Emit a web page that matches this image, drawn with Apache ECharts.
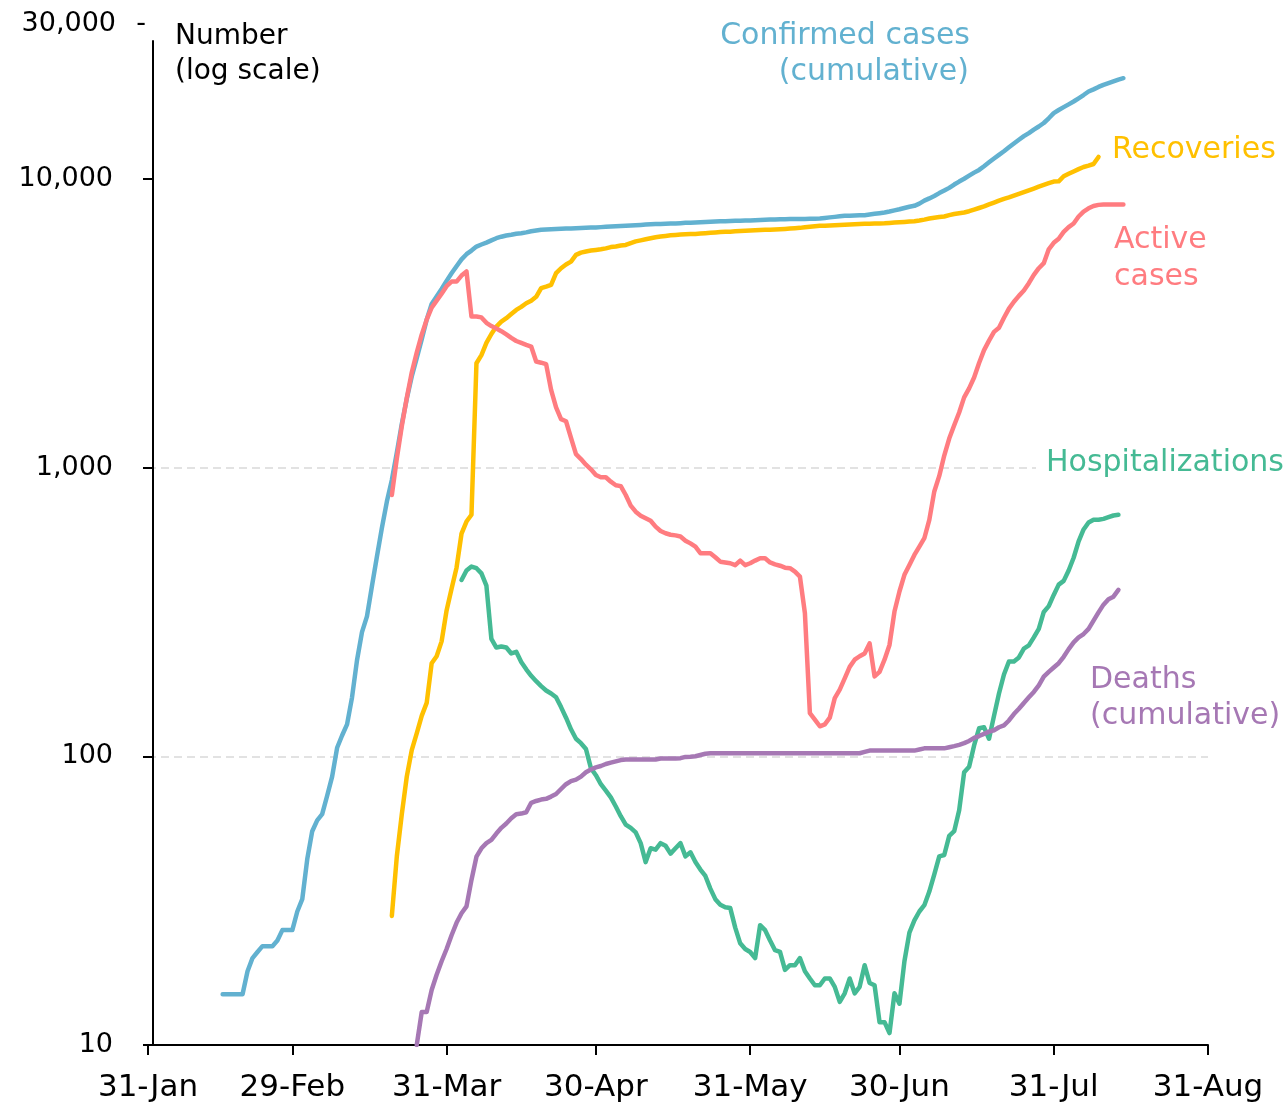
<!DOCTYPE html>
<html><head><meta charset="utf-8">
<script src="https://cdn.jsdelivr.net/npm/echarts@6/dist/echarts.min.js"></script>
<style>html,body{margin:0;padding:0;background:#fff}#c{width:1285px;height:1103px}</style>
</head><body><div id="c"></div>
<script>
// ---- axis definitions ----
const axisStart = '2020-01-31';
const axisEnd = '2020-08-31';
const monthTicks = ['31-Jan','29-Feb','31-Mar','30-Apr','31-May','30-Jun','31-Jul','31-Aug'];
const yTicks = [10, 100, 1000, 10000];
const yMin = 10, yMax = 30000;

// ---- series (daily values from their start date) ----
const confirmedStart = '2020-02-15';
const confirmed = [15,15,15,15,15,18,20,21,22,22,22,23,25,25,25,29,32,44,55,60,63,73,85,107,118,129,160,215,269,305,388,491,618,762,906,1125,1416,1730,2066,2392,2775,3252,3686,3910,4155,4430,4707,4980,5260,5480,5640,5824,5920,6010,6120,6225,6300,6360,6400,6450,6480,6520,6580,6620,6655,6670,6690,6700,6710,6720,6730,6745,6755,6765,6775,6785,6800,6815,6830,6845,6860,6875,6890,6905,6920,6940,6955,6965,6975,6985,6995,7005,7020,7035,7045,7060,7070,7085,7095,7110,7120,7130,7140,7150,7160,7165,7170,7185,7195,7210,7220,7230,7240,7245,7250,7255,7260,7262,7265,7270,7290,7320,7350,7380,7410,7440,7450,7460,7470,7480,7520,7560,7600,7640,7700,7770,7840,7920,8000,8060,8200,8400,8550,8720,8920,9100,9300,9550,9780,10000,10250,10500,10730,11050,11400,11750,12100,12450,12850,13250,13650,14050,14400,14800,15170,15600,16200,16880,17300,17700,18100,18520,19000,19500,20050,20400,20800,21150,21450,21750,22050,22300];

const recoveriesStart = '2020-03-20';
const recoveries = [28,45,63,85,105,120,138,153,210,222,250,320,380,450,590,650,686,2296,2450,2700,2900,3076,3200,3290,3400,3514,3600,3705,3780,3900,4180,4230,4290,4710,4900,5050,5165,5450,5550,5600,5640,5670,5700,5740,5800,5830,5870,5900,5990,6070,6120,6170,6220,6270,6310,6340,6370,6390,6410,6425,6435,6440,6460,6480,6500,6520,6540,6550,6560,6575,6590,6600,6615,6630,6645,6655,6665,6675,6685,6700,6720,6740,6760,6790,6820,6850,6870,6880,6890,6905,6920,6935,6950,6960,6975,6985,6990,6995,7000,7010,7030,7050,7070,7090,7110,7130,7170,7220,7280,7330,7370,7400,7480,7550,7600,7640,7720,7820,7920,8020,8150,8270,8400,8520,8620,8740,8860,8990,9120,9250,9390,9520,9650,9780,9800,10200,10400,10600,10800,10980,11100,11250,11900];

const activeStart = '2020-03-20';
const active = [803,1075,1390,1742,2133,2500,2884,3252,3578,3785,4000,4245,4404,4404,4620,4775,3336,3336,3310,3170,3090,3030,2965,2890,2810,2742,2700,2660,2624,2328,2307,2280,1858,1615,1470,1446,1267,1112,1070,1023,986,942,925,925,893,868,862,803,738,703,681,667,654,624,603,592,585,582,577,558,546,532,505,505,505,489,472,469,466,459,476,459,466,476,485,485,469,462,457,450,448,436,419,313,141,134,127,129,136,159,170,186,204,216,222,227,246,189,196,216,243,317,372,425,460,498,532,569,659,826,935,1100,1260,1400,1550,1750,1880,2050,2300,2550,2750,2950,3050,3300,3550,3750,3930,4100,4350,4650,4900,5100,5700,6000,6200,6550,6800,7000,7400,7700,7900,8050,8120,8150,8150,8150,8150,8150];

const hospitalStart = '2020-04-03';
const hospital = [408,440,454,448,430,390,255,238,240,238,227,230,212,200,190,182,175,169,165,160,148,136,124,115,111,106,91,86,80,76,72,67,62,58,56.5,54.5,50,43,48,47.5,50,49,46,48,50,45,46.5,43,40.5,38.5,34.8,32,30.6,30,29.8,25.5,22.5,21.5,21,20,26,25,23,21.3,21,18.2,18.9,18.9,20,18,17,16.1,16.1,17,17,15.9,14.1,15.1,17,15.1,15.9,18.9,16.4,16.1,12,12,11,15.1,13.9,19.5,24.5,27,29,30.5,34,39,45,45.5,53,55,65,88,92,109,125,126,115,138,165,192,213,213,220,236,242,258,276,316,331,362,393,405,440,487,555,610,645,659,659,664,673,682,686];

const deathsStart = '2020-03-25';
const deaths = [10,13,13,15.5,17.5,19.5,21.5,24,26.5,28.6,30.2,37.3,44.9,48,50,51.3,54,56.5,58.5,61,63,63.3,64,69,70,70.8,71.2,72.5,74,77,80,82,83,85,88,90,91.5,92.5,94,95,96,97,97.4,97.4,97.4,97.4,97.4,97.4,97.4,98.2,98.2,98.2,98.2,98.5,99.5,99.7,100,101,102,102.4,102.4,102.4,102.4,102.4,102.4,102.4,102.4,102.4,102.4,102.4,102.4,102.4,102.4,102.4,102.4,102.4,102.4,102.4,102.4,102.4,102.4,102.4,102.4,102.4,102.4,102.4,102.4,102.4,102.4,102.4,103.5,104.6,104.6,104.6,104.6,104.6,104.6,104.6,104.6,104.6,104.6,105.5,106.5,106.5,106.5,106.5,106.5,107.5,108.4,109.5,111,113,115.7,117.5,119.5,121.7,123,126,128,133,140,146,153,160,167,176,188.7,196,203,210,221,235,248,258,265,276,295,315,335,350,357,377];

// ---- build category axis and series ----
const MON = ['Jan','Feb','Mar','Apr','May','Jun','Jul','Aug','Sep','Oct','Nov','Dec'];
const DAY = 86400000;
const t0 = Date.parse(axisStart + 'T00:00:00Z');
const t1 = Date.parse(axisEnd + 'T00:00:00Z');
const categories = [];
for (let t = t0; t <= t1; t += DAY) {
  const d = new Date(t);
  categories.push(d.getUTCDate() + '-' + MON[d.getUTCMonth()]);
}
function toSeries(start, arr) {
  const off = Math.round((Date.parse(start + 'T00:00:00Z') - t0) / DAY);
  return categories.map((c, i) => (i >= off && i < off + arr.length) ? arr[i - off] : '-');
}

const FONT = '"DejaVu Sans", sans-serif';
const C = {blue:'#62B1D0', yellow:'#FFC000', red:'#FF7C80', green:'#45BA94', purple:'#A678B4'};

function mkLine(name, start, arr, color) {
  return {
    name, type: 'line', data: toSeries(start, arr), showSymbol: false, symbol: 'none',
    connectNulls: false, lineStyle: {width: 4.5, color, cap: 'round', join: 'round'},
    itemStyle: {color}, emphasis: {disabled: true}, z: 3
  };
}

function txt(text, x, y, size, color, align) {
  return {type: 'text', x, y, z: 100,
    style: {text, fill: color, font: size + 'px ' + FONT, textAlign: align || 'left', textVerticalAlign: 'middle'}};
}

const chart = echarts.init(document.getElementById('c'), null, {renderer: 'canvas'});
chart.setOption({
  animation: false,
  backgroundColor: '#fff',
  grid: {left: 148, top: 41, width: 1060, height: 1004, containLabel: false},
  xAxis: {
    type: 'category', data: categories, boundaryGap: false,
    axisLine: {show: true, lineStyle: {color: '#000', width: 2}},
    axisTick: {show: true, length: 10, inside: false, lineStyle: {color: '#000', width: 2},
      interval: (i, v) => monthTicks.indexOf(v) >= 0},
    axisLabel: {interval: (i, v) => monthTicks.indexOf(v) >= 0, color: '#000', fontSize: 31, fontFamily: FONT, margin: 27},
    splitLine: {show: false}
  },
  yAxis: {
    type: 'log', logBase: 10, min: yMin, max: yMax, offset: -5,
    axisLine: {show: true, lineStyle: {color: '#000', width: 2}},
    axisTick: {show: true, length: 10, inside: false, lineStyle: {color: '#000', width: 2}, customValues: yTicks},
    axisLabel: {color: '#000', fontSize: 27, fontFamily: FONT, margin: 40, customValues: yTicks,
      formatter: v => Number(v).toLocaleString('en-US')},
    splitLine: {show: true, showMinLine: false, showMaxLine: false, lineStyle: {color: '#D9D9D9', width: 1.5, type: [8, 5]}}
  },
  series: [
    mkLine('Confirmed cases (cumulative)', confirmedStart, confirmed, C.blue),
    mkLine('Recoveries', recoveriesStart, recoveries, C.yellow),
    mkLine('Active cases', activeStart, active, C.red),
    mkLine('Hospitalizations', hospitalStart, hospital, C.green),
    mkLine('Deaths (cumulative)', deathsStart, deaths, C.purple)
  ],
  graphic: [
    // masks where the label boxes hide the gridlines
    {type: 'rect', z: 90, shape: {x: 1100, y: 172, width: 185, height: 14}, style: {fill: '#fff'}},
    {type: 'rect', z: 90, shape: {x: 1036, y: 460, width: 249, height: 14}, style: {fill: '#fff'}},
    txt('30,000', 116, 24, 27, '#000', 'right'),
    txt('-', 141, 24, 27, '#000', 'center'),
    txt('Number', 175, 37, 28, '#000'),
    txt('(log scale)', 175, 72, 28, '#000'),
    txt('Confirmed cases', 970, 36, 30, C.blue, 'right'),
    txt('(cumulative)', 969, 72, 30, C.blue, 'right'),
    txt('Recoveries', 1112, 150, 30, C.yellow),
    txt('Active', 1114, 240, 30, C.red),
    txt('cases', 1114, 277, 30, C.red),
    txt('Hospitalizations', 1046, 463, 30, C.green),
    txt('Deaths', 1090, 680, 30, C.purple),
    txt('(cumulative)', 1090, 716, 30, C.purple)
  ]
});
</script>
</body></html>
